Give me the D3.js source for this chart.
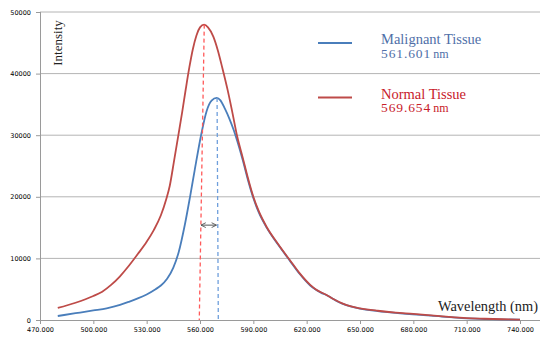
<!DOCTYPE html>
<html>
<head>
<meta charset="utf-8">
<script src="https://cdn.jsdelivr.net/npm/d3@7"></script>
<style>
body{margin:0;background:#fff;}
svg{display:block;}
.tick text{font-family:"DejaVu Sans",sans-serif;font-size:6.5px;fill:#000;}
</style>
</head>
<body>
<svg id="chart" width="540" height="337"></svg>
<script>
// spectra
var normalWl  = [480,490,500,505,510,515,520,525,530,534,538,541,543,545.5,548,550,552,554,556,558,560,562.3,564.5,567.5,570,572.5,575.5,578,581,584,587,590,593,597.5,604,610.6,616,622,625,628,631,635,640,645,650,660,670,680,690,700,710,720,730,740];
var normalInt = [1950,2800,3900,4600,5700,7100,8800,10700,12700,14600,17000,19600,21800,26000,30300,33800,37500,41000,44000,46200,47500,47950,47500,46000,43800,41000,37400,34000,29700,26400,23000,20000,17700,15100,12300,9700,7600,5700,5000,4500,4100,3400,2700,2200,1900,1500,1200,1000,750,500,300,200,120,60];

var malignantWl  = [480,490,500,507.5,515,520,525,530,535,538,541.5,545,548,551.5,554.4,557,560.6,563.7,566.5,569.4,571.5,574,576.5,579,581,584,587,590,593,597.5,604,610.6,616,622,625,628,631,640,650,660,670,690,710,740];
var malignantInt = [650,1100,1550,1900,2450,2950,3500,4150,5000,5600,6700,8500,11000,15500,20000,24300,30000,33900,35600,36050,35650,34300,32700,30800,29000,26000,22700,19800,17500,15000,12200,9600,7500,5600,4950,4450,4050,2650,1850,1450,1150,700,270,50];

var xTicks = [470,500,530,560,590,620,650,680,710,740];
var yTicks = [0,10000,20000,30000,40000,50000];

// dashed peak markers: [top wl, top intensity, bottom wl]
var normalPeak    = [562.4, 47950, 559.6];
var malignantPeak = [569.6, 36050, 570.3];
var shiftArrow    = [560, 569.8, 15400];

var legendItems = [
    {name:"Malignant Tissue", num:"561.601", color:"#4a7ebb", text:"#4f6fa8"},
    {name:"Normal Tissue", num:"569.654", color:"#be4b48", text:"#c8202a"}
];

var svg = d3.select("#chart");
var x = d3.scaleLinear().domain([470,740]).range([40,520]);
var y = d3.scaleLinear().domain([0,50000]).range([320,12]);

// gridlines
svg.append("g").selectAll("line").data(yTicks.slice(1)).enter().append("line")
    .attr("x1",40).attr("x2",540)
    .attr("y1",function(d){return y(d);}).attr("y2",function(d){return y(d);})
    .attr("stroke","#b4b4b4").attr("stroke-width",1);

var xAxis = svg.append("g").attr("transform","translate(0,320)")
    .call(d3.axisBottom(x).tickValues(xTicks).tickFormat(d3.format(".3f")).tickSize(4).tickPadding(3));
xAxis.select(".domain").attr("d","M40,0.5H540").attr("stroke","#9a9a9a");
xAxis.selectAll(".tick line").attr("stroke","#9a9a9a");

var yAxis = svg.append("g").attr("transform","translate(40,0)")
    .call(d3.axisLeft(y).tickValues(yTicks).tickFormat(d3.format("d")).tickSize(4).tickPadding(5));
yAxis.select(".domain").attr("stroke","#9a9a9a").attr("d","M0.5,12V320");
yAxis.selectAll(".tick line").attr("stroke","#9a9a9a");

var line = d3.line()
    .x(function(d){return x(d[0]);})
    .y(function(d){return y(d[1]);})
    .curve(d3.curveMonotoneX);

svg.append("path").datum(d3.zip(malignantWl,malignantInt))
    .attr("d",line).attr("fill","none").attr("stroke","#4a7ebb").attr("stroke-width",1.8);
svg.append("path").datum(d3.zip(normalWl,normalInt))
    .attr("d",line).attr("fill","none").attr("stroke","#be4b48").attr("stroke-width",1.8);

// peak markers
function peakLine(p,color){
    svg.append("line")
        .attr("x1",x(p[0])).attr("y1",y(p[1]))
        .attr("x2",x(p[2])).attr("y2",y(0))
        .attr("stroke",color).attr("stroke-width",1.3).attr("stroke-dasharray","4,3");
}
peakLine(normalPeak,"#ff5a5a");
peakLine(malignantPeak,"#6f9fdc");

// double-headed arrow
var defs = svg.append("defs");
defs.append("marker").attr("id","ah").attr("viewBox","0 0 10 10").attr("refX",9).attr("refY",5)
    .attr("markerWidth",6).attr("markerHeight",6).attr("orient","auto-start-reverse")
    .append("path").attr("d","M1,1L9,5L1,9").attr("fill","none").attr("stroke","#555").attr("stroke-width",1.5);
svg.append("line")
    .attr("x1",x(shiftArrow[0])+1).attr("x2",x(shiftArrow[1])-1)
    .attr("y1",y(shiftArrow[2])).attr("y2",y(shiftArrow[2]))
    .attr("stroke","#555").attr("stroke-width",1)
    .attr("marker-start","url(#ah)").attr("marker-end","url(#ah)");

// legend
var lg = svg.append("g").selectAll("g").data(legendItems).enter().append("g")
    .attr("transform",function(d,i){return "translate(0,"+(i*54.5)+")";});
lg.append("line").attr("x1",318).attr("x2",352).attr("y1",43).attr("y2",43)
    .attr("stroke",function(d){return d.color;}).attr("stroke-width",1.8);
lg.append("text").attr("x",381).attr("y",44)
    .attr("font-family","Liberation Serif, serif").attr("font-size",14.5)
    .attr("fill",function(d){return d.text;}).text(function(d){return d.name;});
var sub = lg.append("text").attr("x",381).attr("y",57.5)
    .attr("font-family","Liberation Serif, serif")
    .attr("fill",function(d){return d.text;});
sub.append("tspan").attr("font-size",13.5).attr("letter-spacing",0.9).text(function(d){return d.num;});
sub.append("tspan").attr("font-size",12).attr("dx",2).text("nm");

// axis titles
svg.append("text").attr("transform","translate(62,43) rotate(-90)")
    .attr("text-anchor","middle").attr("font-family","Liberation Serif, serif")
    .attr("font-size",13).attr("fill","#222").text("Intensity");
svg.append("text").attr("x",538).attr("y",311).attr("text-anchor","end")
    .attr("font-family","Liberation Serif, serif").attr("font-size",14.4)
    .attr("fill","#222").text("Wavelength (nm)");
</script>
</body>
</html>
